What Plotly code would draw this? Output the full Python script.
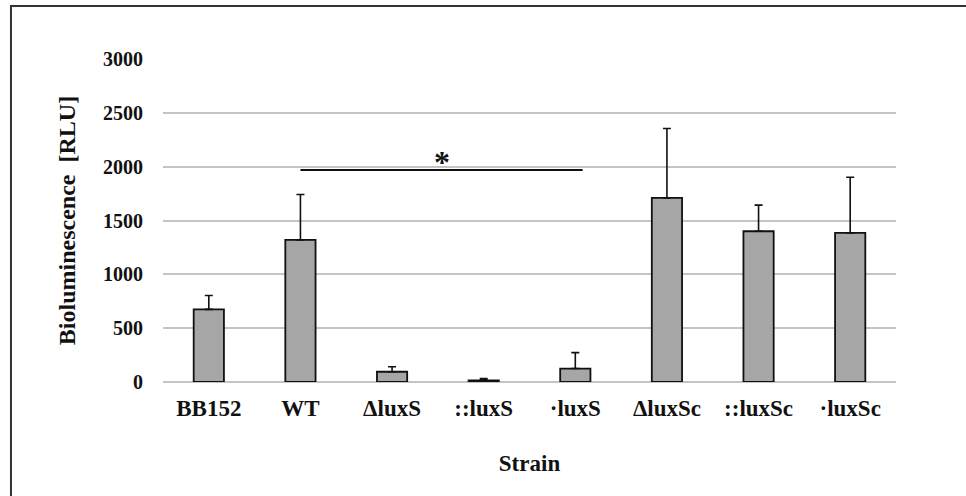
import plotly.graph_objects as go

strains = ["BB152", "WT", "ΔluxS", "::luxS", "·luxS", "ΔluxSc", "::luxSc", "·luxSc"]
means = [675, 1320, 95, 15, 125, 1710, 1400, 1385]
errors_up = [128, 422, 46, 16, 148, 645, 243, 517]
y_ticks = [0, 500, 1000, 1500, 2000, 2500, 3000]

sig_from_index = 1
sig_to_index = 4.08
sig_level = 1968
sig_label = "*"

FONT = "Liberation Serif, Times New Roman, serif"

fig = go.Figure()
fig.add_trace(go.Bar(
    x=list(range(len(strains))),
    y=means,
    marker=dict(color="#a6a6a6", line=dict(color="#111111", width=1.8)),
    error_y=dict(type="data", array=errors_up, arrayminus=[0] * len(means),
                 symmetric=False, color="#111111", thickness=1.6, width=4),
    width=0.33,
    showlegend=False,
))

fig.add_shape(type="line", xref="x", yref="y",
              x0=sig_from_index, x1=sig_to_index, y0=sig_level, y1=sig_level,
              line=dict(color="#111111", width=2))
fig.add_annotation(xref="x", yref="y",
                   x=(sig_from_index + sig_to_index) / 2, y=sig_level,
                   text=sig_label, showarrow=False, yanchor="bottom", yshift=-12,
                   font=dict(family=FONT, size=32, color="#111111", weight="bold"))

# outer frame
fig.add_shape(type="rect", xref="paper", yref="paper", layer="above",
              x0=-0.2074, x1=1.12, y0=-0.45, y1=1.164,
              line=dict(color="#333333", width=2))

fig.update_layout(
    width=966, height=496,
    margin=dict(l=163, r=70, t=59, b=114),
    paper_bgcolor="white", plot_bgcolor="white",
    font=dict(family=FONT, color="#111111"),
    bargap=0.67,
    xaxis=dict(
        tickmode="array", tickvals=list(range(len(strains))), ticktext=strains,
        range=[-0.5, len(strains) - 0.5],
        showgrid=False, showline=False, zeroline=False, ticks="",
        tickfont=dict(family=FONT, size=23, weight="bold"),
        ticklabelstandoff=10,
        title=dict(text="Strain", font=dict(family=FONT, size=23, weight="bold"), standoff=34),
    ),
    yaxis=dict(
        range=[0, 3000], tickvals=y_ticks,
        showgrid=True, gridcolor="#c4c4c4", gridwidth=1.5,
        zeroline=True, zerolinecolor="#c4c4c4", zerolinewidth=1.5,
        showline=False, ticks="",
        tickfont=dict(family=FONT, size=20, weight="bold"),
        ticklabelstandoff=19,
        title=dict(text="Bioluminescence  [RLU]", font=dict(family=FONT, size=24, weight="bold"), standoff=20),
    ),
)

fig.write_html("out.html", config={"displayModeBar": False},
               post_script="document.body.style.margin='0';")
